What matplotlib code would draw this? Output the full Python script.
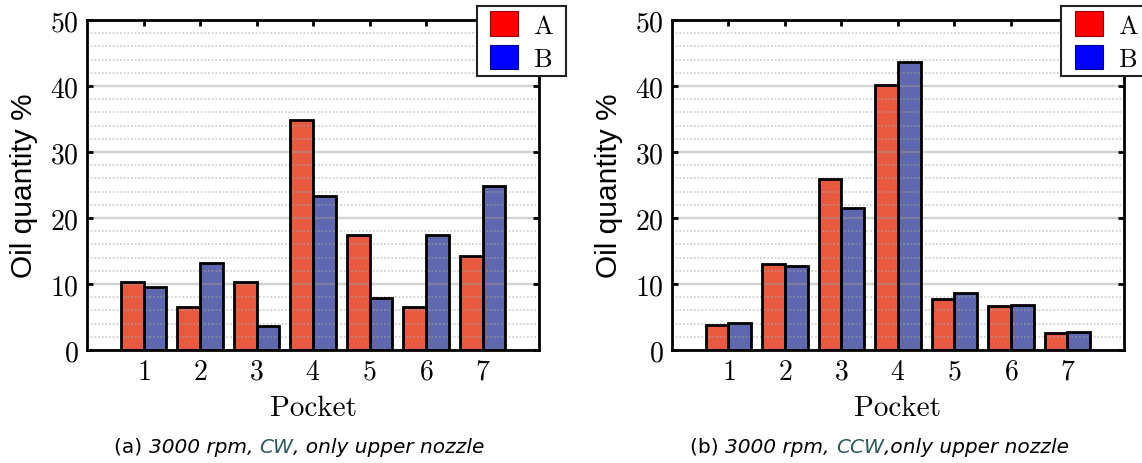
import matplotlib
matplotlib.use("Agg")
import matplotlib.pyplot as plt
import numpy as np
from matplotlib.patches import Patch, Rectangle
from matplotlib.path import Path
from matplotlib.legend_handler import HandlerPatch
from matplotlib.ticker import MultipleLocator
from matplotlib.offsetbox import TextArea, HPacker, AnchoredOffsetbox

plt.rcParams["axes.formatter.use_mathtext"] = True
plt.rcParams["mathtext.fontset"] = "cm"

pockets = [1, 2, 3, 4, 5, 6, 7]
cw_a = [10.3, 6.5, 10.3, 34.8, 17.4, 6.5, 14.2]
cw_b = [9.5, 13.2, 3.7, 23.3, 7.9, 17.5, 24.8]
ccw_a = [3.8, 13.0, 25.9, 40.2, 7.8, 6.6, 2.6]
ccw_b = [4.1, 12.8, 21.5, 43.6, 8.7, 6.8, 2.7]
series_labels = ["A", "B"]

RED = "#E85A3F"
BLUE = "#5F67AF"
TEAL = "#2E5A5A"
SERIF = "cmr10"
LEG_FS = 19


def square_handle(legend, orig_handle, xdescent, ydescent, width, height, fontsize):
    # leave some room on the left of the legend square
    off = 0.33 * fontsize
    return Rectangle((-xdescent + off, -ydescent), width - off, height)


def frame_box(x0, y0, width, height, mutation_size):
    # square frame with a bit more room on the right side
    x1 = x0 + width + 0.3 * mutation_size
    y1 = y0 + height
    return Path([(x0, y0), (x1, y0), (x1, y1), (x0, y1), (x0, y0)], closed=True)


def draw_panel(ax, a_vals, b_vals):
    x = np.array(pockets)
    w = 0.4
    # fill first, grid over the fill, then black outlines on top
    ax.bar(x - w / 2, a_vals, w, color=RED, zorder=2)
    ax.bar(x + w / 2, b_vals, w, color=BLUE, zorder=2)
    ax.bar(x - w / 2, a_vals, w, facecolor="none", edgecolor="black", linewidth=2, zorder=4)
    ax.bar(x + w / 2, b_vals, w, facecolor="none", edgecolor="black", linewidth=2, zorder=4)

    ax.set_xlim(0, 8)
    ax.set_ylim(0, 50)
    ax.set_xticks(pockets)
    ax.yaxis.set_major_locator(MultipleLocator(10))
    ax.yaxis.set_minor_locator(MultipleLocator(2))
    ax.set_axisbelow(False)
    ax.grid(which="major", axis="y", color="#a09a9a", linewidth=1.7, alpha=0.45)
    ax.grid(which="minor", axis="y", color="#a8a8a8", linewidth=1.1,
            linestyle=(0, (1.2, 1.2)), alpha=0.6)

    for s in ax.spines.values():
        s.set_linewidth(2)
        s.set_zorder(5)
    ax.tick_params(which="major", direction="in", length=4.5, width=2,
                   top=True, right=True, labelsize=20, pad=6)
    ax.tick_params(which="minor", length=0)
    for lab in ax.get_xticklabels() + ax.get_yticklabels():
        lab.set_fontfamily(SERIF)

    ax.set_xlabel("Pocket", fontsize=21, fontfamily=SERIF, labelpad=7)
    ax.set_ylabel("Oil quantity %", fontsize=21.5, fontfamily="Liberation Sans")
    ax.yaxis.set_label_coords(-0.108, 0.5)

    handles = [Patch(facecolor="#FF0000", edgecolor="#900000", linewidth=0.8),
               Patch(facecolor="#0000FF", edgecolor="#000090", linewidth=0.8)]
    leg = ax.legend(handles, series_labels, loc="upper right", bbox_to_anchor=(1.042, 1.042),
                    prop={"family": SERIF, "size": LEG_FS}, frameon=True, fancybox=False,
                    framealpha=1, edgecolor="#222222", handlelength=1.39, handleheight=1.06,
                    handletextpad=0.55, labelspacing=0.26, borderpad=0.2, borderaxespad=0,
                    handler_map={Patch: HandlerPatch(patch_func=square_handle)})
    leg.get_frame().set_boxstyle(frame_box)
    leg.get_frame().set_linewidth(1.5)
    leg.set_zorder(10)


def caption(fig, parts, cx, cy):
    boxes = []
    for text, color, style in parts:
        boxes.append(TextArea(text, textprops=dict(color=color, style=style, fontsize=14.5,
                                                   fontfamily="DejaVu Sans")))
    pack = HPacker(children=boxes, align="baseline", pad=0, sep=0)
    anch = AnchoredOffsetbox(loc="center", child=pack, pad=0, borderpad=0, frameon=False,
                             bbox_to_anchor=(cx, cy), bbox_transform=fig.transFigure)
    fig.add_artist(anch)


fig = plt.figure(figsize=(11.42, 4.64), dpi=100)
ax1 = fig.add_axes([0.0762, 0.2435, 0.3958, 0.7112])
ax2 = fig.add_axes([0.5884, 0.2435, 0.3958, 0.7112])
draw_panel(ax1, cw_a, cw_b)
draw_panel(ax2, ccw_a, ccw_b)

caption(fig, [("(a) ", "black", "normal"), ("3000 rpm, ", "black", "italic"),
              ("CW", TEAL, "italic"), (", only upper nozzle", "black", "italic")],
        0.2623, 0.0366)
caption(fig, [("(b) ", "black", "normal"), ("3000 rpm, ", "black", "italic"),
              ("CCW", TEAL, "italic"), (",only upper nozzle", "black", "italic")],
        0.7703, 0.0366)

fig.savefig("out.png", dpi=100)
